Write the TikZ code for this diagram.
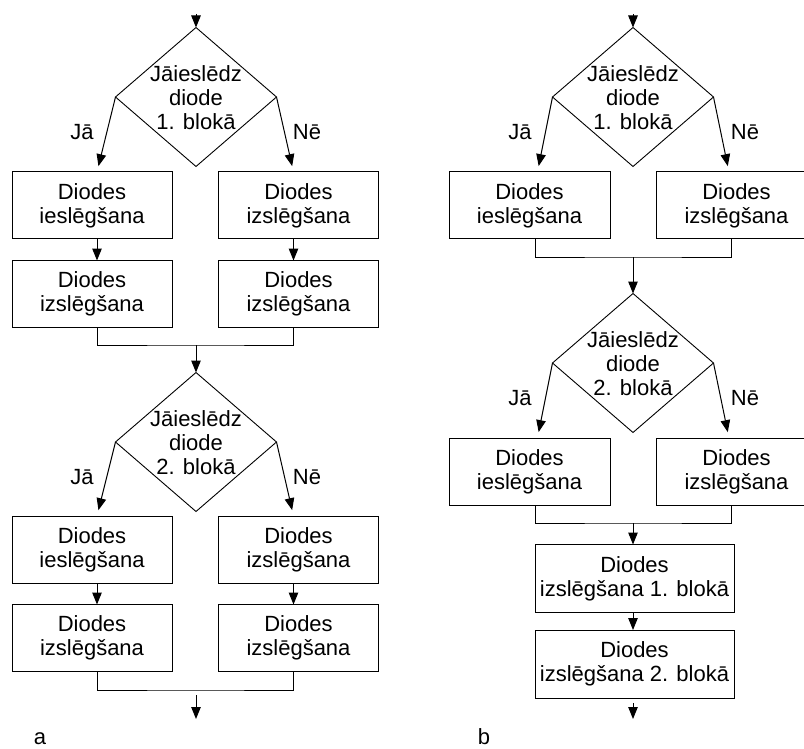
\documentclass[tikz,border=0pt]{standalone}
\usepackage{fontspec}
\setmainfont{Liberation Sans}
\usetikzlibrary{arrows.meta,shapes.geometric,calc}
\tikzset{
 txt/.style={font=\fontsize{22}{24}\selectfont, align=center, inner sep=0pt},
 box/.style={draw, line width=1pt, minimum width=160pt, minimum height=67pt, inner sep=0pt, outer sep=0pt, txt},
 widebox/.style={box, minimum width=199pt, minimum height=68pt},
 dia/.style={draw, diamond, line width=0.9pt, minimum width=161pt, minimum height=139pt, inner sep=0pt, outer sep=0pt},
 arr/.style={line width=1pt, -{Triangle[length=12pt,width=9.5pt]}},
 ln/.style={line width=1pt},
 br/.style={arr, shorten >=6pt},
}
\begin{document}
\begin{tikzpicture}[x=1pt,y=-1pt]
\useasboundingbox (0,0) rectangle (804,749);
\clip (0,0) rectangle (804,749);
% ---------------- panel a ----------------
\coordinate (sa) at (196,14);
\node[dia] (da1) at (196,97) {};
\node[txt] (da1t) at (196,98) {Jāieslēdz\\diode\\1. blokā};
\node[box] (a1L) at (92,205.5) {Diodes\\ieslēgšana};
\node[box] (a1R) at (298.5,205.5) {Diodes\\izslēgšana};
\node[box] (a2L) at (92,294) {Diodes\\izslēgšana};
\node[box] (a2R) at (298.5,294) {Diodes\\izslēgšana};
\coordinate (ma1) at (196,345);
\node[dia] (da2) at (196,442) {};
\node[txt] (da2t) at (196,443) {Jāieslēdz\\diode\\2. blokā};
\node[box] (a3L) at (92,549.5) {Diodes\\ieslēgšana};
\node[box] (a3R) at (298.5,549.5) {Diodes\\izslēgšana};
\node[box] (a4L) at (92,638) {Diodes\\izslēgšana};
\node[box] (a4R) at (298.5,638) {Diodes\\izslēgšana};
\coordinate (ma2) at (196,690);
\coordinate (ea1) at (196,695);
\coordinate (ea2) at (196,719);
\node[txt] (ja1) at (82,132) {Jā};
\node[txt] (ne1) at (307,132) {Nē};
\node[txt] (ja2) at (82,477) {Jā};
\node[txt] (ne2) at (307,477) {Nē};
\node[txt] (la) at (40,739) {a};

\draw[arr] (sa) -- (da1.north);
\draw[br] (da1.west) -- ([xshift=5pt]a1L.north);
\draw[br] (da1.east) -- ([xshift=-5pt]a1R.north);
\draw[arr] ([xshift=5pt]a1L.south) -- ([xshift=5pt]a2L.north);
\draw[arr] ([xshift=-5pt]a1R.south) -- ([xshift=-5pt]a2R.north);
\draw[ln] ([xshift=5pt]a2L.south) |- (ma1) -| ([xshift=-5pt]a2R.south);
\draw[arr] (ma1) -- (da2.north);
\draw[br] (da2.west) -- ([xshift=5pt]a3L.north);
\draw[br] (da2.east) -- ([xshift=-5pt]a3R.north);
\draw[arr] ([xshift=5pt]a3L.south) -- ([xshift=5pt]a4L.north);
\draw[arr] ([xshift=-5pt]a3R.south) -- ([xshift=-5pt]a4R.north);
\draw[ln] ([xshift=5pt]a4L.south) |- (ma2) -| ([xshift=-5pt]a4R.south);
\draw[arr] (ea1) -- (ea2);

% ---------------- panel b ----------------
\coordinate (sb) at (633,14);
\node[dia] (db1) at (633,97) {};
\node[txt] (db1t) at (633,98) {Jāieslēdz\\diode\\1. blokā};
\node[box, minimum width=161pt] (b1L) at (529.5,205.5) {Diodes\\ieslēgšana};
\node[box, minimum width=161pt] (b1R) at (736.5,205.5) {Diodes\\izslēgšana};
\coordinate (mb1) at (633,257);
\node[dia] (db2) at (633,363) {};
\node[txt] (db2t) at (633,364) {Jāieslēdz\\diode\\2. blokā};
\node[box, minimum width=161pt] (b2L) at (529.5,471.5) {Diodes\\ieslēgšana};
\node[box, minimum width=161pt] (b2R) at (736.5,471.5) {Diodes\\izslēgšana};
\coordinate (mb2) at (633,523);
\node[widebox] (b3) at (634.5,578.5) {Diodes\\izslēgšana 1. blokā};
\node[widebox] (b4) at (634.5,664) {Diodes\\izslēgšana 2. blokā};
\coordinate (eb1) at (633,703);
\coordinate (eb2) at (633,719);
\node[txt] (jb1) at (520,132) {Jā};
\node[txt] (nb1) at (745,132) {Nē};
\node[txt] (jb2) at (520,398) {Jā};
\node[txt] (nb2) at (745,398) {Nē};
\node[txt] (lb) at (484,737) {b};

\draw[arr] (sb) -- (db1.north);
\draw[br] (db1.west) -- ([xshift=8pt]b1L.north);
\draw[br] (db1.east) -- ([xshift=-7.5pt]b1R.north);
\draw[ln] ([xshift=5.5pt]b1L.south) |- (mb1) -| ([xshift=-5.5pt]b1R.south);
\draw[arr] (mb1) -- (db2.north);
\draw[br] (db2.west) -- ([xshift=8pt]b2L.north);
\draw[br] (db2.east) -- ([xshift=-7.5pt]b2R.north);
\draw[ln] ([xshift=5.5pt]b2L.south) |- (mb2) -| ([xshift=-5.5pt]b2R.south);
\draw[arr] (mb2) -- (b3.north -| mb2);
\draw[arr] (b3.south -| mb2) -- (b4.north -| mb2);
\draw[arr] (eb1) -- (eb2);
\end{tikzpicture}
\end{document}
